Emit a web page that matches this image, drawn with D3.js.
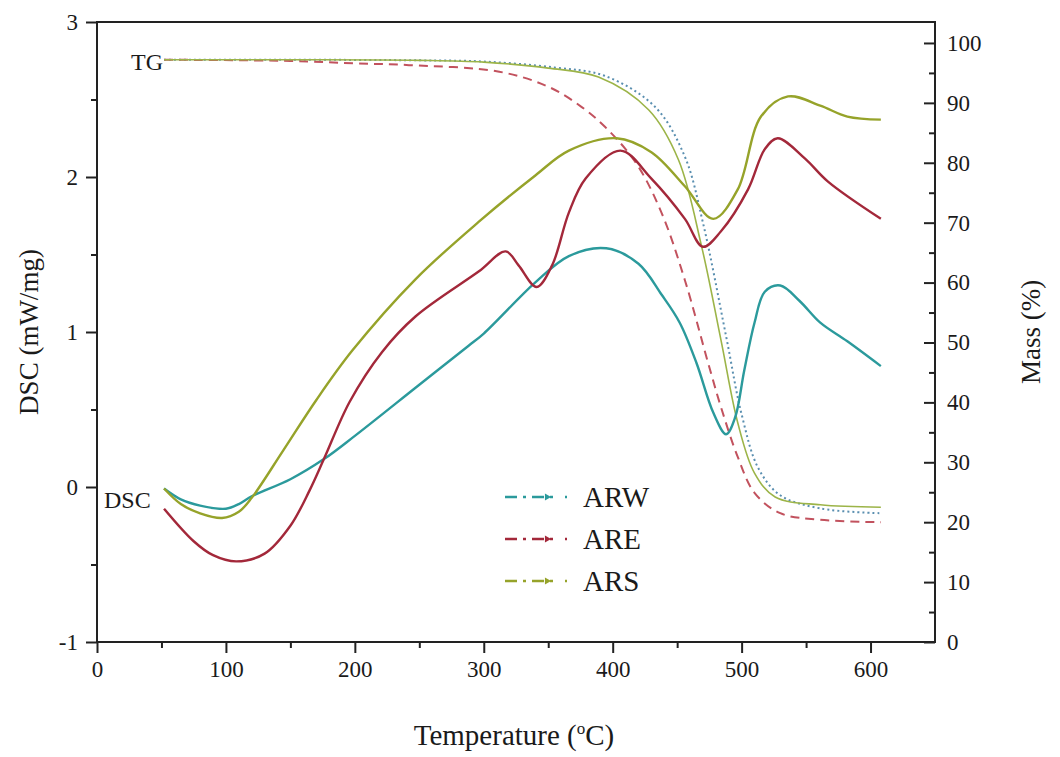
<!DOCTYPE html>
<html lang="en">
  <head>
    <meta charset="UTF-8" />
    <title>DSC / TG</title>
    <style>
      body { margin: 0; background: #fff; }
      text { font-family: "Liberation Serif", "DejaVu Serif", serif; fill: #1a1a1a; }
    </style>
  </head>
  <body>
    <svg id="svg" width="1060" height="757"></svg>

    <script src="https://cdn.jsdelivr.net/npm/d3@7"></script>
    <script>
      // DSC curves (temperature °C, mW/mg)
      const dscARW = [[52,-0.01],[65,-0.08],[80,-0.12],[100,-0.14],[110,-0.11],[120,-0.06],[150,0.05],[176,0.18],[200,0.33],[250,0.66],[288,0.91],[300,0.99],[340,1.32],[366,1.49],[395,1.54],[420,1.44],[438,1.24],[452,1.06],[465,0.8],[478,0.48],[488,0.34],[495,0.45],[502,0.75],[510,1.06],[518,1.26],[530,1.3],[545,1.2],[561,1.06],[582,0.94],[608,0.78]];
      const dscARE = [[52,-0.14],[75,-0.35],[90,-0.44],[108,-0.48],[130,-0.43],[150,-0.25],[165,-0.02],[176,0.18],[196,0.55],[221,0.87],[247,1.1],[296,1.39],[317,1.52],[327,1.43],[341,1.29],[353,1.43],[366,1.77],[379,1.99],[406,2.17],[430,1.99],[456,1.73],[470,1.55],[484,1.65],[505,1.92],[518,2.18],[528,2.25],[549,2.12],[567,1.97],[608,1.73]];
      const dscARS = [[52,-0.01],[65,-0.11],[80,-0.17],[97,-0.2],[110,-0.16],[120,-0.07],[144,0.23],[170,0.56],[198,0.88],[247,1.34],[296,1.71],[340,2.01],[366,2.17],[403,2.25],[430,2.16],[456,1.94],[478,1.73],[497,1.92],[515,2.39],[536,2.52],[561,2.46],[582,2.39],[608,2.37]];

      // TG curves (temperature °C, mass %)
      const tgARW = [[52,97.2],[150,97.2],[250,97.1],[300,96.9],[355,95.9],[394,94.5],[433,89.3],[456,81],[470,70],[488,51],[500,38],[513,29],[530,24.5],[561,22.3],[608,21.5]];
      const tgARE = [[52,97.2],[150,97],[200,96.6],[242,96.3],[312,95.2],[350,92.7],[376,89.3],[394,86],[418,80],[438,71.6],[456,60.4],[474,46.6],[484,39.2],[497,30.9],[510,24.9],[530,21.5],[561,20.4],[608,20]];
      const tgARS = [[52,97.2],[150,97.2],[250,97.1],[300,96.8],[350,95.8],[389,94.3],[428,88.8],[451,80.5],[469,66],[484,50.4],[497,36.6],[510,28.2],[526,24.2],[561,22.9],[608,22.5]];

      const seriesNames = ["ARW", "ARE", "ARS"];
      const xTicks = [0, 100, 200, 300, 400, 500, 600];
      const dscTicks = [-1, 0, 1, 2, 3];
      const massTicks = [0, 10, 20, 30, 40, 50, 60, 70, 80, 90, 100];

      const colors = { ARW: "#2b9a9c", ARE: "#a3283a", ARS: "#96a32a" };
      const tgColors = { ARW: "#5a8fb0", ARE: "#c2525e", ARS: "#9cb448" };

      const W = 1060, H = 757;
      const m = { left: 97, right: 125, top: 22, bottom: 115 };
      const svg = d3.select("#svg");

      const x = d3.scaleLinear().domain([0, 650]).range([m.left, W - m.right]);
      const yL = d3.scaleLinear().domain([-1, 3]).range([H - m.bottom, m.top]);
      const yR = d3.scaleLinear().domain([0, 103.5]).range([H - m.bottom, m.top]);

      // frame
      svg.append("rect")
        .attr("x", m.left).attr("y", m.top)
        .attr("width", W - m.left - m.right).attr("height", H - m.top - m.bottom)
        .attr("fill", "none").attr("stroke", "#222").attr("stroke-width", 2);

      const styleAxis = (g) => {
        g.select(".domain").remove();
        g.selectAll("line").attr("stroke", "#222").attr("stroke-width", 2);
        g.selectAll("text").attr("font-size", 23).attr("fill", "#1a1a1a");
      };
      const plain = (d) => String(d);

      // bottom axis (major + minor ticks)
      svg.append("g").attr("transform", `translate(0,${H - m.bottom})`)
        .call(d3.axisBottom(x).tickValues(d3.range(50, 650, 100)).tickSize(6).tickFormat(""))
        .call(styleAxis);
      svg.append("g").attr("transform", `translate(0,${H - m.bottom})`)
        .call(d3.axisBottom(x).tickValues(xTicks).tickSize(11).tickPadding(8).tickFormat(plain))
        .call(styleAxis);

      // left axis
      svg.append("g").attr("transform", `translate(${m.left},0)`)
        .call(d3.axisLeft(yL).tickValues([-0.5, 0.5, 1.5, 2.5]).tickSize(6).tickFormat(""))
        .call(styleAxis);
      svg.append("g").attr("transform", `translate(${m.left},0)`)
        .call(d3.axisLeft(yL).tickValues(dscTicks).tickSize(11).tickPadding(8).tickFormat(plain))
        .call(styleAxis);

      // right axis, ticks point inward
      const xr = W - m.right;
      svg.append("g").attr("transform", `translate(${xr},0)`)
        .call(d3.axisRight(yR).tickValues(d3.range(5, 101, 10)).tickSize(0).tickFormat(""))
        .call(styleAxis)
        .selectAll(".tick line").attr("x1", -6).attr("x2", 0);
      const rg = svg.append("g").attr("transform", `translate(${xr},0)`)
        .call(d3.axisRight(yR).tickValues(massTicks).tickSize(0).tickPadding(12).tickFormat(plain))
        .call(styleAxis);
      rg.selectAll(".tick line").attr("x1", -11).attr("x2", 0);

      // axis titles
      svg.append("text")
        .attr("transform", `translate(38,${(m.top + H - m.bottom) / 2}) rotate(-90)`)
        .attr("text-anchor", "middle").attr("font-size", 27)
        .text("DSC (mW/mg)");
      svg.append("text")
        .attr("transform", `translate(1040,${(m.top + H - m.bottom) / 2}) rotate(-90)`)
        .attr("text-anchor", "middle").attr("font-size", 27)
        .text("Mass (%)");
      const xt = svg.append("text")
        .attr("x", (m.left + W - m.right) / 2 - 2).attr("y", 745)
        .attr("text-anchor", "middle").attr("font-size", 29);
      xt.append("tspan").text("Temperature (");
      xt.append("tspan").attr("font-size", 17).attr("dy", -11).text("o");
      xt.append("tspan").attr("dy", 11).text("C)");

      const curve = d3.curveCatmullRom.alpha(0.5);
      const lineL = d3.line().x((d) => x(d[0])).y((d) => yL(d[1])).curve(curve);
      const lineR = d3.line().x((d) => x(d[0])).y((d) => yR(d[1])).curve(curve);

      // TG curves
      const tg = { ARW: tgARW, ARE: tgARE, ARS: tgARS };
      const tgDash = { ARW: "2,3", ARE: "9,6", ARS: null };
      seriesNames.forEach((s) => {
        svg.append("path").datum(tg[s])
          .attr("d", lineR).attr("fill", "none")
          .attr("stroke", tgColors[s]).attr("stroke-width", s === "ARS" ? 1.6 : 2)
          .attr("stroke-dasharray", tgDash[s]);
      });

      // DSC curves
      const dsc = { ARW: dscARW, ARE: dscARE, ARS: dscARS };
      seriesNames.forEach((s) => {
        svg.append("path").datum(dsc[s])
          .attr("d", lineL).attr("fill", "none")
          .attr("stroke", colors[s]).attr("stroke-width", 2.4);
      });

      // curve labels
      svg.append("text").attr("x", 131).attr("y", 70).attr("font-size", 24).text("TG");
      svg.append("text").attr("x", 104).attr("y", 508).attr("font-size", 24).text("DSC");

      // legend
      const legend = svg.append("g").attr("transform", "translate(505,497)");
      seriesNames.forEach((s, i) => {
        const g = legend.append("g").attr("transform", `translate(0,${i * 42})`);
        g.append("line").attr("x1", 0).attr("x2", 62).attr("y1", 0).attr("y2", 0)
          .attr("stroke", colors[s]).attr("stroke-width", 2.4)
          .attr("stroke-dasharray", "12,6,3,6,12,6,3");
        g.append("path").attr("d", d3.symbol(d3.symbolTriangle, 22)())
          .attr("transform", "translate(42,0) rotate(90)").attr("fill", colors[s]);
        g.append("text").attr("x", 78).attr("y", 10).attr("font-size", 29).text(s);
      });
    </script>
  </body>
</html>
